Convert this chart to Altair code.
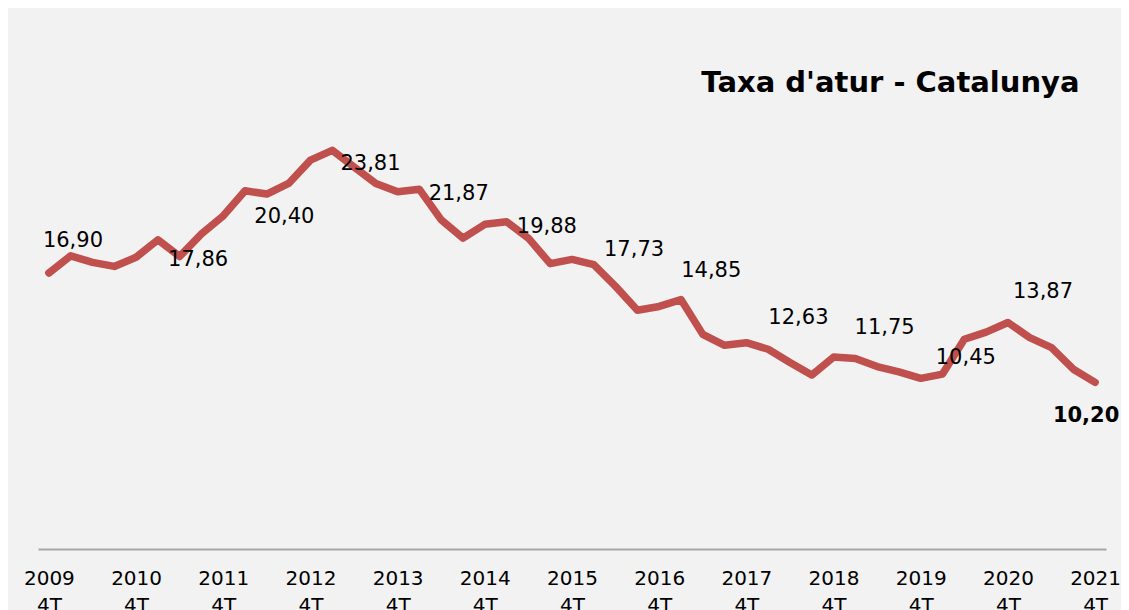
import altair as alt
import pandas as pd

periods = [
    "2009 4T",
    "2010 1T", "2010 2T", "2010 3T", "2010 4T",
    "2011 1T", "2011 2T", "2011 3T", "2011 4T",
    "2012 1T", "2012 2T", "2012 3T", "2012 4T",
    "2013 1T", "2013 2T", "2013 3T", "2013 4T",
    "2014 1T", "2014 2T", "2014 3T", "2014 4T",
    "2015 1T", "2015 2T", "2015 3T", "2015 4T",
    "2016 1T", "2016 2T", "2016 3T", "2016 4T",
    "2017 1T", "2017 2T", "2017 3T", "2017 4T",
    "2018 1T", "2018 2T", "2018 3T", "2018 4T",
    "2019 1T", "2019 2T", "2019 3T", "2019 4T",
    "2020 1T", "2020 2T", "2020 3T", "2020 4T",
    "2021 1T", "2021 2T", "2021 3T", "2021 4T",
]

rates = [
    16.90,
    17.95, 17.55, 17.30, 17.86,
    18.93, 17.91, 19.29, 20.40,
    21.93, 21.73, 22.38, 23.81,
    24.41, 23.39, 22.38, 21.87,
    22.02, 20.15, 19.03, 19.88,
    20.04, 19.03, 17.47, 17.73,
    17.41, 16.08, 14.62, 14.85,
    15.27, 13.14, 12.47, 12.63,
    12.23, 11.42, 10.65, 11.75,
    11.66, 11.17, 10.85, 10.45,
    10.71, 12.84, 13.28, 13.87,
    12.94, 12.33, 11.01, 10.20,
]

tick_periods = [
    "2009 4T", "2010 4T", "2011 4T", "2012 4T", "2013 4T", "2014 4T", "2015 4T",
    "2016 4T", "2017 4T", "2018 4T", "2019 4T", "2020 4T", "2021 4T",
]

# labelled points (all the 4T quarters) and their label nudges (dx, dy in px)
label_periods = tick_periods[:-1]
label_nudges = [
    (-6, -32), (32, 3), (31, 1), (30, 4), (31, 2), (32, 3), (32, -9),
    (22, -35), (22, -25), (21, -29), (15, -20), (5, -30),
]
last_period = "2021 4T"

df = pd.DataFrame({"period": periods, "rate": rates})

FONT = "DejaVu Sans"
RED = "#c0504d"

x_enc = alt.X(
    "period:O",
    sort=periods,
    scale=alt.Scale(type="point", padding=0.5),
    axis=alt.Axis(
        values=tick_periods,
        labelExpr="split(datum.label, ' ')",
        labelAngle=0,
        labelFont=FONT,
        labelFontSize=20,
        labelColor="black",
        labelPadding=19,
        labelLineHeight=27,
        ticks=False,
        grid=False,
        domainColor="#a6a6a6",
        domainWidth=2,
        title=None,
    ),
)
y_enc = alt.Y("rate:Q", scale=alt.Scale(domain=[0, 30], nice=False), axis=None)

base = alt.Chart(df).encode(x=x_enc, y=y_enc)

line = base.mark_line(color=RED, strokeWidth=7.5, strokeCap="round", strokeJoin="round")

layers = [line]
for per, (dx, dy) in zip(label_periods, label_nudges):
    layers.append(
        base.transform_filter(alt.datum.period == per)
        .transform_calculate(lab="replace(format(datum.rate, '.2f'), '.', ',')")
        .mark_text(align="left", baseline="middle", dx=dx, dy=dy,
                   font=FONT, fontSize=21, color="black")
        .encode(text="lab:N")
    )
layers.append(
    base.transform_filter(alt.datum.period == last_period)
    .transform_calculate(lab="replace(format(datum.rate, '.2f'), '.', ',')")
    .mark_text(align="center", baseline="middle", dx=-9, dy=34,
               font=FONT, fontSize=21, fontWeight="bold", color="black")
    .encode(text="lab:N")
)

chart = (
    alt.layer(*layers)
    .properties(
        width=1068,
        height=490,
        autosize=alt.AutoSizeParams(type="none"),
        padding={"left": 30, "top": 51, "right": 15, "bottom": 61},
        background="#f2f2f2",
        title=alt.TitleParams(
            text="Taxa d'atur - Catalunya",
            anchor="end",
            font=FONT,
            fontSize=29,
            fontWeight="bold",
            color="black",
            baseline="alphabetic",
            offset=-33,
            dx=-41,
            dy=29,
        ),
    )
    .configure_view(stroke=None)
)

chart.save("out.html", embed_options={"renderer": "svg", "actions": False})
